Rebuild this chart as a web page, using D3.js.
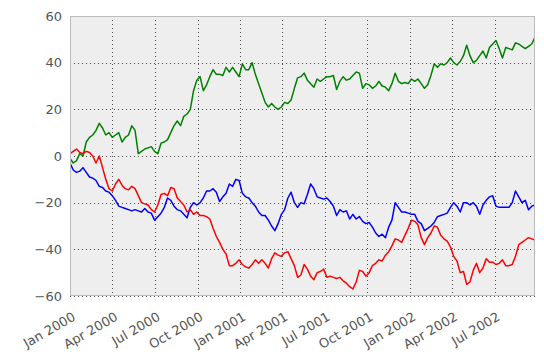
<!DOCTYPE html>
<html>
<head>
<meta charset="utf-8">
<script src="https://cdn.jsdelivr.net/npm/d3@7"></script>
<style>
  html, body { margin: 0; padding: 0; background: #ffffff; }
  svg { display: block; }
  text { font-family: "DejaVu Sans", sans-serif; }
</style>
</head>
<body>
<svg id="chart" width="544" height="358"></svg>
<script>
// ---- data (sampled roughly weekly, 1 Jan 2000 .. 26 Sep 2002) ----
const startDate = "2000-01-01";
const endDate = "2002-09-26";
const seriesNames = ["A", "B", "C"];
const seriesColors = ["#0000ff", "#008000", "#ff0000"];

const blueValues = [
  -3, -6, -7, -6.5, -5, -7, -9, -9.5, -10.5, -13, -13.5, -15, -15.5, -17, -19, -21.5,
  -22, -22.5, -23, -23.5, -23, -23.5, -24, -22.5, -24, -24.5, -27.5, -26, -24.5, -22, -18, -19,
  -21.5, -23, -23.5, -25, -26.5, -22, -20, -21, -20, -18, -15, -15, -14, -15.5, -19.5, -17.5,
  -16, -12, -13, -10, -10.5, -16, -17.5, -18, -20, -21.5, -24, -25.5, -25.5, -27.5, -30, -32,
  -29, -25, -23, -18, -15.5, -20, -22, -20, -20.5, -16.5, -12, -14, -17.5, -18, -18.5, -18,
  -19.5, -21.5, -25.5, -23, -24, -23.5, -27, -25, -27, -26, -28, -29, -28.5, -30.5, -33, -34.5,
  -33.5, -35, -30.5, -27.5, -20, -22, -24, -24, -24.5, -25, -25, -28, -29, -32, -31, -30,
  -28.5, -26, -25.5, -25, -24.5, -22, -20, -21.5, -24, -20, -20, -21, -20, -21.5, -25, -21,
  -19, -17.5, -17, -21.5, -22, -22, -22, -22, -20, -15, -17.5, -20, -19, -23, -21.5, -21
];

const greenValues = [
  -1, -3, -2, 1, 0, 6, 8, 9, 11, 14, 12, 9, 10, 8, 9, 10,
  6, 8, 9, 13, 11, 1, 2, 3, 3.5, 4, 2, 1, 5.5, 6, 7, 10,
  13, 15, 13, 17, 18, 20, 28, 32.5, 34, 28, 30.5, 34, 37, 35, 35, 34.5,
  38, 36, 38, 36, 34, 39.5, 37, 37, 40, 35, 31, 27, 23, 21, 22.5, 21,
  20, 21, 23, 22.5, 24, 29, 33.5, 34, 35.5, 32.5, 31, 29.5, 33, 32, 33, 34,
  34, 34.5, 28.5, 32, 34, 32.5, 33, 34.5, 36, 35.5, 29, 31, 30.5, 29, 30, 32,
  30, 29.5, 28, 31, 35.5, 32, 31, 31.5, 31, 33, 32, 33, 31, 29, 30.5, 34.5,
  39.5, 38, 39.5, 39, 40, 42, 40, 39, 40.5, 43, 47.5, 43, 40, 41, 43, 45,
  42, 46.5, 48, 49.5, 46, 42, 46.5, 46, 45.5, 48.5, 48, 47, 46, 47, 48, 51
];

const redValues = [
  1, 2, 3, 1.5, 1, 2, 1.5, 0, -3, 0, -5, -10, -14, -15, -12, -10,
  -12.5, -14, -14.5, -13, -14, -17, -20, -20.5, -21, -23, -24, -21, -16.5, -16, -17, -13.5,
  -14, -18, -19.5, -21, -24, -23, -25, -24, -25.5, -25.5, -26, -27, -31, -34.5, -37, -40,
  -42, -47, -47, -46, -44.5, -46.5, -47.5, -48, -46.5, -44.5, -46, -44.5, -46, -48, -44, -41.5,
  -42.5, -43, -41.5, -41, -44, -47, -52, -51, -46.5, -48.5, -51.5, -53, -50, -49.5, -48.5, -52,
  -51.5, -52, -52.5, -52, -53.5, -54.5, -56, -57, -54, -49, -49.5, -51.5, -50, -47, -46, -44.5,
  -45, -42.5, -41, -38.5, -35.5, -36, -37, -34, -31, -27.5, -28, -29.5, -35, -38, -35, -33,
  -30, -30.5, -34, -35.5, -36.5, -39, -43, -45, -50, -49.5, -55, -54, -49, -46, -50, -48,
  -44, -45.5, -45.5, -46.5, -46, -44.5, -47, -47, -46.5, -43, -38, -37, -36, -35, -35.5, -36
];

const yTickValues = [-60, -40, -20, 0, 20, 40, 60];
const yDomain = [-60, 60];

// ---- layout ----
const svg = d3.select("#chart");
const plot = { left: 70, right: 535, top: 16, bottom: 296 };

const t0 = d3.utcParse("%Y-%m-%d")(startDate);
const t1 = d3.utcParse("%Y-%m-%d")(endDate);
const nPts = greenValues.length;
const dates = d3.range(nPts).map(i => new Date(+t0 + (t1 - t0) * i / (nPts - 1)));

const x = d3.scaleUtc().domain([t0, t1]).range([plot.left, plot.right]);
const y = d3.scaleLinear().domain(yDomain).range([plot.bottom, plot.top]);

// background
svg.append("rect")
  .attr("x", plot.left).attr("y", plot.top)
  .attr("width", plot.right - plot.left).attr("height", plot.bottom - plot.top)
  .attr("fill", "#eeeeee");

const xTicks = x.ticks(d3.utcMonth.every(3));
const fmt = d3.utcFormat("%b %Y");

// grid
const grid = svg.append("g").attr("stroke", "#222").attr("stroke-width", 0.8)
  .attr("stroke-dasharray", "1,3").attr("fill", "none");
xTicks.forEach(d => {
  grid.append("line")
    .attr("x1", Math.round(x(d)) + 0.5).attr("x2", Math.round(x(d)) + 0.5)
    .attr("y1", plot.top).attr("y2", plot.bottom);
});
yTickValues.forEach(v => {
  grid.append("line")
    .attr("x1", plot.left).attr("x2", plot.right)
    .attr("y1", Math.round(y(v)) + 0.5).attr("y2", Math.round(y(v)) + 0.5);
});

// lines
const valueSets = [blueValues, greenValues, redValues];
const line = d3.line().x((d, i) => x(dates[i])).y(d => y(d));
svg.append("clipPath").attr("id", "clip").append("rect")
  .attr("x", plot.left).attr("y", plot.top)
  .attr("width", plot.right - plot.left).attr("height", plot.bottom - plot.top);
const lines = svg.append("g").attr("clip-path", "url(#clip)");
valueSets.forEach((vals, k) => {
  lines.append("path")
    .datum(vals)
    .attr("d", line)
    .attr("fill", "none")
    .attr("stroke", seriesColors[k])
    .attr("stroke-width", 1.5)
    .attr("stroke-linejoin", "round");
});

// frame
svg.append("rect")
  .attr("x", plot.left + 0.5).attr("y", plot.top + 0.5)
  .attr("width", plot.right - plot.left - 1).attr("height", plot.bottom - plot.top - 1)
  .attr("fill", "none").attr("stroke", "#bcbcbc").attr("stroke-width", 1);

// y tick labels
const yAxis = d3.axisLeft(y).tickValues(yTickValues).tickSize(0).tickPadding(8)
  .tickFormat(d => d < 0 ? "\u2212" + Math.abs(d) : String(d));
const gy = svg.append("g").attr("transform", `translate(${plot.left},0)`).call(yAxis);
gy.select(".domain").remove();
gy.selectAll("text").attr("fill", "#555555").attr("font-size", 13)
  .attr("font-family", "DejaVu Sans, sans-serif");

// x tick labels (rotated)
const xAxis = d3.axisBottom(x).tickValues(xTicks).tickSize(0).tickFormat(fmt);
const gx = svg.append("g").attr("transform", `translate(0,${plot.bottom})`).call(xAxis);
gx.select(".domain").remove();
gx.selectAll("text")
  .attr("fill", "#555555").attr("font-size", 13)
  .attr("font-family", "DejaVu Sans, sans-serif")
  .attr("text-anchor", "end")
  .attr("y", 0).attr("dy", "0.75em")
  .attr("transform", "translate(1,15) rotate(-30)");
</script>
</body>
</html>
